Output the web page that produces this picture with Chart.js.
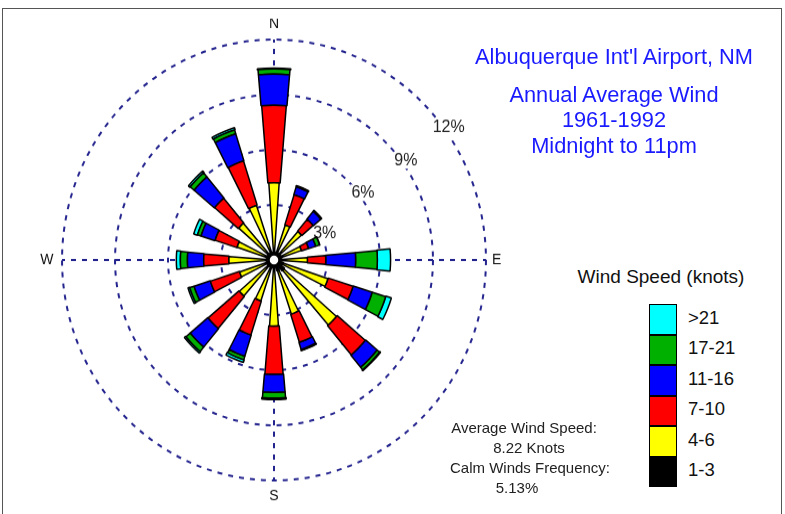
<!DOCTYPE html>
<html>
<head>
<meta charset="utf-8">
<title>Wind Rose - Albuquerque</title>
<script src="https://cdn.jsdelivr.net/npm/chart.js@4.4.1/dist/chart.umd.min.js"></script>
<style>
  body { margin: 0; background: #fff; font-family: Arial, "Liberation Sans", sans-serif; }
  #page { position: relative; width: 785px; height: 514px; overflow: hidden; background: #fff; }
  #frame { position: absolute; left: 2px; top: 8px; width: 778px; height: 520px; border: 1px solid #555; }
  /* the original rose is a touch taller than wide */
  #roseBox { position: absolute; left: 14px; top: 28px; width: 520px; height: 466px;
             transform: scaleY(1.04); transform-origin: 260px 233px; }
  .head { position: absolute; left: 464px; width: 300px; text-align: center; color: #1a1aff; font-size: 21.8px; line-height: 25.8px; }
  #legendTitle { position: absolute; left: 561px; top: 266px; width: 200px; text-align: center; font-size: 19px; line-height: 22px; color: #111; }
  .swatch { position: absolute; left: 649px; width: 26px; height: 28.5px; border: 1px solid #000; }
  .swLabel { position: absolute; left: 688px; font-size: 18.5px; line-height: 30px; color: #111; }
  .stat { position: absolute; width: 200px; text-align: center; font-size: 15px; line-height: 20px; color: #222; }
</style>
</head>
<body>
<div id="page">
  <div id="frame"></div>
  <div id="roseBox"><canvas id="rose"></canvas></div>

  <div class="head" style="top:44px">Albuquerque Int'l Airport, NM</div>
  <div class="head" style="top:81.5px">Annual Average Wind<br>1961-1992<br>Midnight to 11pm</div>

  <div id="legendTitle">Wind Speed (knots)</div>
  <div id="legend"></div>

  <div class="stat" style="left:424px; top:418px">Average Wind Speed:</div>
  <div class="stat" style="left:429px; top:438px" id="avgSpeed"></div>
  <div class="stat" style="left:430px; top:458px">Calm Winds Frequency:</div>
  <div class="stat" style="left:417px; top:478px" id="calmFreq"></div>
</div>

<script>
// ---- data (percent of all hours) ----
const directions = ['N', 'NNE', 'NE', 'ENE', 'E', 'ESE', 'SE', 'SSE',
                    'S', 'SSW', 'SW', 'WSW', 'W', 'WNW', 'NW', 'NNW'];
const speedClasses = ['1-3', '4-6', '7-10', '11-16', '17-21', '>21'];

const speed1to3   = [0.45, 0.45, 0.45, 0.45, 0.45, 0.55, 0.75, 0.60, 0.45, 0.45, 0.45, 0.45, 0.45, 0.45, 0.45, 0.45];
const speed4to6   = [3.75, 1.55, 1.60, 1.18, 1.44, 2.67, 3.93, 2.50, 3.14, 1.89, 2.14, 1.60, 2.10, 1.75, 2.19, 2.68];
const speed7to10  = [4.22, 1.73, 0.85, 0.42, 1.04, 1.48, 2.09, 1.60, 2.63, 1.94, 2.29, 1.73, 1.43, 1.30, 1.76, 2.53];
const speed11to16 = [1.70, 0.44, 0.55, 0.42, 1.69, 1.13, 0.85, 0.40, 0.99, 1.21, 1.30, 0.96, 0.92, 0.83, 1.50, 1.54];
const speed17to21 = [0.28, 0.05, 0.05, 0.23, 1.23, 0.80, 0.18, 0.05, 0.31, 0.20, 0.32, 0.26, 0.40, 0.21, 0.29, 0.22];
const speedOver21 = [0.05, 0.02, 0.02, 0.02, 0.75, 0.33, 0.05, 0.02, 0.08, 0.15, 0.10, 0.10, 0.23, 0.22, 0.11, 0.12];

const ringTicks = [3, 6, 9, 12];
const avgWindSpeed = 8.22;   // knots
const calmFrequency = 5.13;  // percent

// ---- styling ----
const classColors = ['#000000', '#ffff00', '#ff0000', '#0000ff', '#00b000', '#00ffff'];
const classWidths = [16, 8, 9.5, 10, 10, 10.5];   // wedge width in degrees
const gridColor = '#24248e';
const cardinals = ['N', 'E', 'S', 'W'];
const SECTOR = 360 / directions.length;

Chart.defaults.font.family = 'Arial, "Liberation Sans", sans-serif';

// each speed class is one polarArea dataset holding the running total,
// laid out as [gap, wedge, gap, wedge, ...] so the wedges can be narrow
const classFreqs = [speed1to3, speed4to6, speed7to10, speed11to16, speed17to21, speedOver21];
let running = directions.map(() => 0);
const datasets = classFreqs.map((freqs, k) => {
    running = running.map((v, i) => v + freqs[i]);
    const data = [];
    running.forEach(v => data.push(0, v));
    const w = classWidths[k];
    return {
        label: speedClasses[k],
        data: data,
        backgroundColor: ctx => ctx.dataIndex % 2 ? classColors[k] : 'rgba(0,0,0,0)',
        borderColor: '#000',
        borderWidth: ctx => ctx.dataIndex % 2 ? 1.5 : 0,
        angle: ctx => ctx.dataIndex % 2 ? w : (ctx.dataIndex === 0 ? SECTOR / 2 - w / 2 : SECTOR - w)
    };
});

/**
 * Plugins
 */
// start every class where the class below it ends
const stackRings = {
    id: 'stackRings',
    afterDatasetsUpdate(chart) {
        for (let d = 1; d < chart.data.datasets.length; d++) {
            const below = chart.getDatasetMeta(d - 1).data;
            chart.getDatasetMeta(d).data.forEach((arc, i) => {
                arc.innerRadius = below[i].outerRadius;
            });
        }
    }
};

// percent labels sitting on the rings, up and to the right
const ringLabels = {
    id: 'ringLabels',
    beforeDatasetsDraw(chart) {
        const r = chart.scales.r;
        const ctx = chart.ctx;
        ctx.save();
        ctx.font = '16px Arial, "Liberation Sans", sans-serif';
        ctx.textAlign = 'center';
        ctx.textBaseline = 'middle';
        ringTicks.forEach(v => {
            // the inner label is nudged round so it clears the NE bars
            const a = (v === ringTicks[0] ? 63 : 54) * Math.PI / 180;
            const d = r.getDistanceFromCenterForValue(v) + 4;
            const x = r.xCenter + d * Math.sin(a);
            const y = r.yCenter - d * Math.cos(a);
            const text = v + '%';
            const tw = ctx.measureText(text).width;
            ctx.fillStyle = '#fff';
            ctx.fillRect(x - tw / 2 - 1, y - 8, tw + 2, 16);
            ctx.fillStyle = '#222';
            ctx.fillText(text, x, y);
        });
        ctx.restore();
    }
};

// calm hub in the middle
const calmHub = {
    id: 'calmHub',
    afterDatasetsDraw(chart) {
        const r = chart.scales.r;
        const ctx = chart.ctx;
        ctx.save();
        ctx.beginPath();
        ctx.arc(r.xCenter, r.yCenter, 5, 0, Math.PI * 2);
        ctx.fillStyle = '#fff';
        ctx.fill();
        ctx.lineWidth = 1.5;
        ctx.strokeStyle = '#000';
        ctx.stroke();
        ctx.restore();
    }
};

new Chart(document.getElementById('rose'), {
    type: 'polarArea',
    data: {
        labels: directions.flatMap(d => ['', d]),
        datasets: datasets
    },
    options: {
        responsive: true,
        maintainAspectRatio: false,
        animation: false,
        events: [],
        layout: { padding: 0 },
        plugins: {
            legend: { display: false },
            tooltip: { enabled: false }
        },
        scales: {
            r: {
                min: 0,
                max: ringTicks[ringTicks.length - 1],
                startAngle: -SECTOR / 2,
                ticks: { display: false, stepSize: ringTicks[0] },
                grid: { color: gridColor, lineWidth: 2, circular: true },
                border: { dash: [5, 6] },
                angleLines: {
                    display: true,
                    color: gridColor,
                    lineWidth: ctx => ctx.label ? 2 : 0,
                    borderDash: [5, 6]
                },
                pointLabels: {
                    display: true,
                    callback: label => cardinals.includes(label) ? label : '',
                    padding: ctx => ctx.label === 'W' ? 8.5 : (ctx.label === 'E' ? 6 : 9),
                    color: '#111',
                    font: { size: 14, lineHeight: 0.86 }
                }
            }
        }
    },
    plugins: [stackRings, ringLabels, calmHub]
});

// ---- legend, top class first ----
const legendEl = document.getElementById('legend');
speedClasses.slice().reverse().forEach((cls, i) => {
    const k = speedClasses.length - 1 - i;
    const top = 304.3 + i * 30.5;
    legendEl.innerHTML += `
        <div class="swatch" style="top:${top}px; background:${classColors[k]}"></div>
        <div class="swLabel" style="top:${top - 1.5}px">${cls}</div>`;
});

document.getElementById('avgSpeed').innerText = avgWindSpeed.toFixed(2) + ' Knots';
document.getElementById('calmFreq').innerText = calmFrequency.toFixed(2) + '%';
</script>
</body>
</html>
